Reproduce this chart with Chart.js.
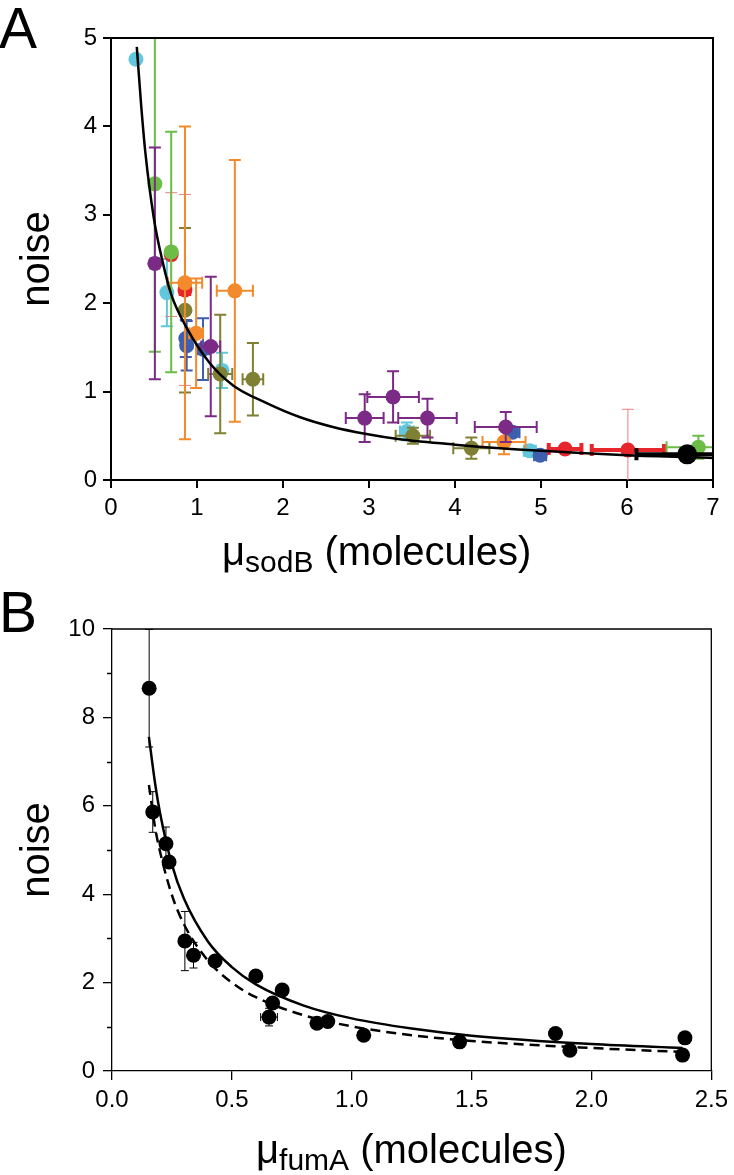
<!DOCTYPE html>
<html>
<head>
<meta charset="utf-8">
<script src="https://cdn.jsdelivr.net/npm/chart.js@4.4.1/dist/chart.umd.min.js"></script>
<style>
  body { margin: 0; background: #fff; width: 734px; height: 1175px; position: relative; overflow: hidden;
         font-family: "Liberation Sans", Arial, sans-serif; color: #000; }
  canvas { position: absolute; left: 0; }
  #chartA { top: 0; }
  #chartB { top: 590px; }
  .txt { position: absolute; white-space: nowrap; line-height: 1; }
  .panel { font-size: 57px; }
  .xtitle { font-size: 40px; }
  .xtitle sub { font-size: 30px; vertical-align: -7px; }
</style>
</head>
<body>
<canvas id="chartA" width="734" height="590"></canvas>
<canvas id="chartB" width="734" height="585"></canvas>
<div class="txt panel" style="left:-1px; top:0px;">A</div>
<div class="txt panel" style="left:-1px; top:584px;">B</div>
<div class="txt xtitle" style="left:222px; top:531px;">μ<sub>sodB</sub> (molecules)</div>
<div class="txt xtitle" style="left:256px; top:1129px;">μ<sub>fumA</sub> (molecules)</div>
<script>
// panel A: rows are [mean, noise, x error, y error]
const cyanPts = [[0.29, 4.76, 0, 0], [0.65, 2.12, 0, 0.38], [1.29, 1.24, 0.05, 0.2], [3.44, 0.55, 0.08, 0.1], [4.87, 0.33, 0.07, 0.05]];
const greenPts = [[0.51, 3.35, 0, 1.9], [0.70, 2.58, 0, 1.36], [6.83, 0.37, 0.37, 0.13]];
const purplePts = [[0.51, 2.45, 0.05, 1.31], [1.16, 1.51, 0.11, 0.79], [2.95, 0.70, 0.22, 0.27], [3.28, 0.94, 0.3, 0.29], [3.68, 0.70, 0.34, 0.22], [4.59, 0.60, 0.36, 0.17]];
const orangePts = [[0.86, 2.23, 0.2, 1.77], [0.99, 1.66, 0.08, 0.62], [1.44, 2.14, 0.21, 1.48], [4.57, 0.43, 0.25, 0.14]];
const redPts = [[0.70, 2.55, 0.03, 0.7], [0.86, 2.15, 0.05, 1.08], [5.28, 0.35, 0.19, 0.04], [6.01, 0.34, 0.42, 0.46]];
const bluePts = [[0.87, 1.60, 0.03, 0.21], [0.88, 1.52, 0.04, 0.28], [1.07, 1.48, 0.07, 0.35], [4.67, 0.54, 0.08, 0.05], [4.99, 0.28, 0.07, 0.04]];
const olivePts = [[0.86, 1.92, 0, 0.93], [1.27, 1.20, 0.14, 0.67], [1.65, 1.14, 0.12, 0.41], [3.51, 0.50, 0.2, 0.09], [4.19, 0.36, 0.21, 0.12]];
const blackPts = [[6.70, 0.29, 0.59, 0.03]];

// fitted curve of panel A
const fitAx = [0.3, 0.35, 0.4, 0.5, 0.6, 0.7, 0.88, 1.15, 1.42, 1.81, 2.2, 2.58, 2.97, 3.36, 4, 5, 6, 7];
const fitAy = [4.9, 4.25, 3.7, 2.95, 2.47, 2.1, 1.72, 1.32, 1.07, 0.87, 0.71, 0.6, 0.52, 0.46, 0.4, 0.33, 0.28, 0.25];

const xTicksA = [0, 1, 2, 3, 4, 5, 6, 7];
const yTicksA = [0, 1, 2, 3, 4, 5];

// panel B
const fumX = [0.155, 0.17, 0.225, 0.238, 0.304, 0.34, 0.43, 0.60, 0.655, 0.67, 0.71, 0.855, 0.90, 1.05, 1.45, 1.85, 1.91, 2.38, 2.39];
const fumY = [8.66, 5.86, 5.14, 4.73, 2.94, 2.62, 2.49, 2.15, 1.22, 1.54, 1.83, 1.08, 1.12, 0.81, 0.66, 0.85, 0.47, 0.36, 0.75];
const fumXErr = [0, 0, 0, 0, 0, 0, 0, 0, 0.035, 0, 0, 0.02, 0, 0, 0, 0, 0, 0, 0];
const fumYErr = [1.33, 0.46, 0.38, 0.1, 0.67, 0.29, 0, 0, 0.2, 0, 0, 0.05, 0, 0, 0, 0, 0, 0, 0];

const fitBx = [0.154, 0.18, 0.2, 0.25, 0.3, 0.4, 0.5, 0.6, 0.8, 1.0, 1.25, 1.5, 2.0, 2.38];
const fitBsolid = [7.56, 6.5, 5.85, 4.67, 3.9, 2.93, 2.35, 1.96, 1.48, 1.19, 0.96, 0.8, 0.61, 0.52];
const fitBdashed = [6.47, 5.5, 4.97, 3.98, 3.32, 2.5, 2.0, 1.67, 1.26, 1.01, 0.81, 0.68, 0.52, 0.43];

const xTicksB = [0, 0.5, 1, 1.5, 2, 2.5];
const yTicksB = [0, 2, 4, 6, 8, 10];
const yMinorB = [1, 3, 5, 7, 9];

Chart.defaults.font.family = '"Liberation Sans", Arial, sans-serif';
Chart.defaults.color = '#000';

// error bars drawn just before each dataset's markers
const errorBars = {
    id: 'errorBars',
    beforeDatasetDraw(chart, args) {
        const ds = chart.data.datasets[args.index];
        if (!ds.errs) return;
        const { ctx, chartArea: a } = chart;
        const xs = chart.scales.x, ys = chart.scales.y;
        ctx.save();
        ctx.beginPath();
        ctx.rect(a.left, a.top, a.right - a.left, a.bottom - a.top);
        ctx.clip();
        ds.errs.forEach(([mx, my, ex, ey]) => {
            const cx = xs.getPixelForValue(mx), cy = ys.getPixelForValue(my);
            const cap = ds.cap;
            if (ey > 0) {
                const t = ys.getPixelForValue(my + ey), b = ys.getPixelForValue(my - ey);
                ctx.strokeStyle = ds.yErrColor;
                ctx.lineWidth = ds.yErrWidth;
                ctx.beginPath();
                ctx.moveTo(cx, t); ctx.lineTo(cx, b);
                ctx.moveTo(cx - cap, t); ctx.lineTo(cx + cap, t);
                ctx.moveTo(cx - cap, b); ctx.lineTo(cx + cap, b);
                ctx.stroke();
            }
            if (ex > 0) {
                const l = xs.getPixelForValue(mx - ex), r = xs.getPixelForValue(mx + ex);
                ctx.strokeStyle = ds.xErrColor;
                ctx.lineWidth = ds.xErrWidth;
                ctx.beginPath();
                ctx.moveTo(l, cy); ctx.lineTo(r, cy);
                ctx.moveTo(l, cy - cap); ctx.lineTo(l, cy + cap);
                ctx.moveTo(r, cy - cap); ctx.lineTo(r, cy + cap);
                ctx.stroke();
            }
        });
        ctx.restore();
    }
};

// top and right side of the box, plus minor ticks
const frame = {
    id: 'frame',
    afterDraw(chart, args, opts) {
        const { ctx, chartArea: a } = chart;
        ctx.save();
        ctx.strokeStyle = '#000';
        ctx.lineWidth = opts.width;
        ctx.beginPath();
        ctx.moveTo(a.left, a.top); ctx.lineTo(a.right, a.top); ctx.lineTo(a.right, a.bottom);
        ctx.stroke();
        if (opts.minorY) {
            const ys = chart.scales.y;
            ctx.beginPath();
            opts.minorY.forEach(v => {
                const py = Math.round(ys.getPixelForValue(v)) + 0.5;
                ctx.moveTo(a.left - 5, py); ctx.lineTo(a.left, py);
            });
            ctx.stroke();
        }
        ctx.restore();
    }
};

function seriesA(rows, color, opts = {}) {
    return Object.assign({
        data: rows.map(r => ({ x: r[0], y: r[1] })),
        errs: rows,
        backgroundColor: color,
        borderWidth: 0,
        pointRadius: 7.5,
        cap: 6,
        xErrColor: color, yErrColor: color,
        xErrWidth: 2, yErrWidth: 2
    }, opts);
}

function axis(min, max, tickVals, size, tickLen, lw, extra) {
    return Object.assign({
        type: 'linear', min: min, max: max,
        afterBuildTicks(s) { s.ticks = tickVals.map(v => ({ value: v })); },
        grid: { drawOnChartArea: false, drawTicks: true, tickLength: tickLen, color: '#000', lineWidth: lw },
        border: { display: true, color: '#000', width: lw },
        ticks: { color: '#000', font: { size: 24 }, autoSkip: false, maxRotation: 0, padding: 6 }
    }, extra);
}

// ---- panel A ----
new Chart(document.getElementById('chartA'), {
    type: 'scatter',
    data: {
        datasets: [
            { type: 'line', data: fitAx.map((v, i) => ({ x: v, y: fitAy[i] })), borderColor: '#000', borderWidth: 2.5,
              pointRadius: 0, cubicInterpolationMode: 'monotone', fill: false },
            seriesA(blackPts, '#000', { pointRadius: 10, xErrWidth: 4 }),
            seriesA(greenPts.slice(2), '#6cbd45'),
            seriesA(purplePts.slice(1), '#7b2a86'),
            seriesA(orangePts, '#f38a2b'),
            seriesA(olivePts, '#7f8033'),
            seriesA(purplePts.slice(0, 1), '#7b2a86'),
            seriesA(greenPts.slice(0, 2), '#6cbd45'),
            seriesA(bluePts, '#3e5fae'),
            seriesA(redPts, '#e6262b', { xErrWidth: 4, yErrWidth: 1, yErrColor: '#ee7f80' }),
            seriesA(cyanPts, '#62c6dc')
        ]
    },
    options: {
        responsive: false,
        animation: false,
        layout: { padding: { top: 38, right: 21, left: 0, bottom: 0 } },
        plugins: { legend: { display: false }, tooltip: { enabled: false }, frame: { width: 2 } },
        scales: {
            x: axis(0, 7, xTicksA, 24, 8, 2, { afterFit(s) { s.height = 110; } }),
            y: axis(0, 5, yTicksA, 24, 8, 2, {
                afterFit(s) { s.width = 111; },
                title: { display: true, text: 'noise', color: '#000', font: { size: 40 }, padding: { top: 14 } }
            })
        }
    },
    plugins: [errorBars, frame]
});

// ---- panel B ----
const fumRows = fumX.map((v, i) => [v, fumY[i], fumXErr[i], fumYErr[i]]);
new Chart(document.getElementById('chartB'), {
    type: 'scatter',
    data: {
        datasets: [
            { type: 'line', data: fitBx.map((v, i) => ({ x: v, y: fitBsolid[i] })), borderColor: '#000', borderWidth: 2.5,
              pointRadius: 0, cubicInterpolationMode: 'monotone', fill: false },
            { type: 'line', data: fitBx.map((v, i) => ({ x: v, y: fitBdashed[i] })), borderColor: '#000', borderWidth: 2.5,
              borderDash: [10, 6], pointRadius: 0, cubicInterpolationMode: 'monotone', fill: false },
            {
                data: fumRows.map(r => ({ x: r[0], y: r[1] })),
                errs: fumRows,
                backgroundColor: '#000', borderWidth: 0, pointRadius: 7.5,
                cap: 4, xErrColor: '#000', yErrColor: '#000', xErrWidth: 1, yErrWidth: 1
            }
        ]
    },
    options: {
        responsive: false,
        animation: false,
        layout: { padding: { top: 39, right: 22, left: 0, bottom: 0 } },
        plugins: { legend: { display: false }, tooltip: { enabled: false }, frame: { width: 1.3, minorY: yMinorB } },
        scales: {
            x: axis(0, 2.5, xTicksB, 24, 9, 1.3, {
                afterFit(s) { s.height = 104; },
                ticks: { color: '#000', font: { size: 24 }, autoSkip: false, maxRotation: 0, padding: 6,
                         callback: v => Number(v).toFixed(1) }
            }),
            y: axis(0, 10, yTicksB, 24, 9, 1.3, {
                afterFit(s) { s.width = 112; },
                ticks: { color: '#000', font: { size: 24 }, autoSkip: false, maxRotation: 0, padding: 8 },
                title: { display: true, text: 'noise', color: '#000', font: { size: 40 }, padding: { top: 14 } }
            })
        }
    },
    plugins: [errorBars, frame]
});
</script>
</body>
</html>
